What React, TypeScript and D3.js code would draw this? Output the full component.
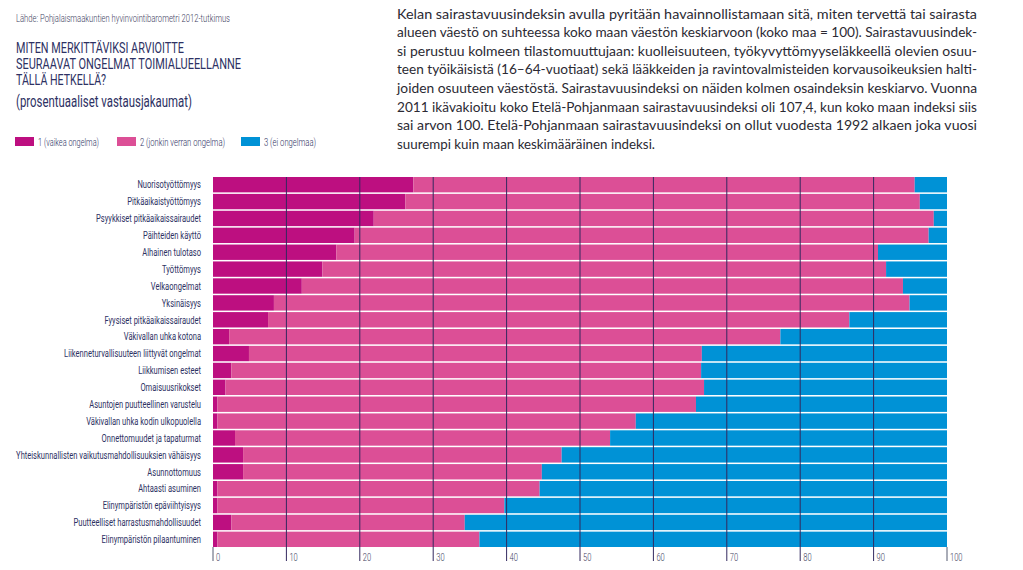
import React from "react";
import * as d3 from "d3";

const categories = [
  "Nuorisotyöttömyys",
  "Pitkäaikaistyöttömyys",
  "Psyykkiset pitkäaikaissairaudet",
  "Päihteiden käyttö",
  "Alhainen tulotaso",
  "Työttömyys",
  "Velkaongelmat",
  "Yksinäisyys",
  "Fyysiset pitkäaikaissairaudet",
  "Väkivallan uhka kotona",
  "Liikenneturvallisuuteen liittyvät ongelmat",
  "Liikkumisen esteet",
  "Omaisuusrikokset",
  "Asuntojen puutteellinen varustelu",
  "Väkivallan uhka kodin ulkopuolella",
  "Onnettomuudet ja tapaturmat",
  "Yhteiskunnallisten vaikutusmahdollisuuksien vähäisyys",
  "Asunnottomuus",
  "Ahtaasti asuminen",
  "Elinympäristön epäviihtyisyys",
  "Puutteelliset harrastusmahdollisuudet",
  "Elinympäristön pilaantuminen",
];

const severe = [27.3, 26.2, 21.9, 19.3, 16.8, 14.9, 12.1, 8.3, 7.5, 2.2, 4.9, 2.5, 1.7, 0.6, 0.6, 3.0, 4.1, 4.1, 0.6, 0.6, 2.5, 0.6];
const some = [68.3, 70.1, 76.3, 78.2, 73.8, 76.8, 81.9, 86.6, 79.2, 75.1, 61.7, 64.0, 65.2, 65.2, 57.0, 51.1, 43.4, 40.7, 43.9, 39.1, 31.8, 35.7];
const none = [4.4, 3.7, 1.8, 2.5, 9.4, 8.3, 6.0, 5.1, 13.3, 22.7, 33.4, 33.5, 33.1, 34.2, 42.4, 45.9, 52.5, 55.2, 55.5, 60.3, 65.7, 63.7];

const seriesKeys = ["severe", "some", "none"];
const seriesNames = ["1 (vaikea ongelma)", "2 (jonkin verran ongelma)", "3 (ei ongelmaa)"];
const seriesColors = ["#bd0f80", "#dc4f96", "#0092d6"];
const xTicks = [0, 10, 20, 30, 40, 50, 60, 70, 80, 90, 100];

const sourceText = "Lähde: Pohjalaismaakuntien hyvinvointibarometri 2012-tutkimus";
const titleLines = ["MITEN MERKITTÄVIKSI ARVIOITTE", "SEURAAVAT ONGELMAT TOIMIALUEELLANNE", "TÄLLÄ HETKELLÄ?"];
const subtitle = "(prosentuaaliset vastausjakaumat)";
const paragraph = [
  "Kelan sairastavuusindeksin avulla pyritään havainnollistamaan sitä, miten tervettä tai sairasta",
  "alueen väestö on suhteessa koko maan väestön keskiarvoon (koko maa = 100). Sairastavuusindek-",
  "si perustuu kolmeen tilastomuuttujaan: kuolleisuuteen, työkyvyttömyyseläkkeellä olevien osuu-",
  "teen työikäisistä (16–64-vuotiaat) sekä lääkkeiden ja ravintovalmisteiden korvausoikeuksien halti-",
  "joiden osuuteen väestöstä. Sairastavuusindeksi on näiden kolmen osaindeksin keskiarvo. Vuonna",
  "2011 ikävakioitu koko Etelä-Pohjanmaan sairastavuusindeksi oli 107,4, kun koko maan indeksi siis",
  "sai arvon 100. Etelä-Pohjanmaan sairastavuusindeksi on ollut vuodesta 1992 alkaen joka vuosi",
  "suurempi kuin maan keskimääräinen indeksi.",
];

const W = 1023;
const H = 570;
const navy = "#2d3163";
const condFont = "Roboto, 'Noto Sans', sans-serif";

export default function App() {
  const table = categories.map((c, i) => ({ cat: c, severe: severe[i], some: some[i], none: none[i] }));
  const stacked = d3.stack<any>().keys(seriesKeys)(table);

  const x = d3.scaleLinear().domain([0, 100]).range([213, 947]);
  const y = d3.scaleBand<string>().domain(categories).range([177, 547]).paddingInner(0.09).paddingOuter(0);
  const barBottom = 547;
  const tickBottom = 561;

  const labelScale = 0.7;
  const legendX = [15, 117, 241];
  const legendTextW = [61, 85, 52];

  return (
    <svg width={W} height={H} style={{ position: "absolute", left: 0, top: 0, background: "#fff" }}>
      {/* source */}
      <text x={16} y={22} fontFamily={condFont} fontWeight={300} fontSize={10} fill="#3d4060" textLength={214} lengthAdjust="spacingAndGlyphs">
        {sourceText}
      </text>
      {/* title */}
      {titleLines.map((t, i) => (
        <text key={t} x={16} y={52.5 + i * 16.4} fontFamily={condFont} fontSize={14.6} fill={navy}
          textLength={[168, 225, 90][i]} lengthAdjust="spacingAndGlyphs">
          {t}
        </text>
      ))}
      <text x={16} y={107} fontFamily={condFont} fontSize={16.5} fill={navy} textLength={176} lengthAdjust="spacingAndGlyphs">
        {subtitle}
      </text>

      {/* legend */}
      {seriesNames.map((n, i) => (
        <g key={n}>
          <rect x={legendX[i]} y={137} width={19} height={9} fill={seriesColors[i]} />
          <text x={legendX[i] + 23} y={145.5} fontFamily={condFont} fontWeight={300} fontSize={10.5} fill={navy}
            textLength={legendTextW[i]} lengthAdjust="spacingAndGlyphs">
            {n}
          </text>
        </g>
      ))}

      {/* paragraph */}
      {paragraph.map((line, i) => (
        <text key={i} x={397} y={18.5 + i * 18.6} fontFamily="Lato, 'Open Sans', sans-serif" fontSize={13.4} fill="#2b2a33"
          textLength={i < paragraph.length - 1 ? 580 : 258} lengthAdjust="spacingAndGlyphs">
          {line}
        </text>
      ))}

      {/* bars */}
      {stacked.map((s, si) => (
        <g key={s.key} fill={seriesColors[si]}>
          {s.map((d: any) => (
            <rect key={d.data.cat} x={x(d[0])} y={y(d.data.cat)} width={x(d[1]) - x(d[0])} height={y.bandwidth()} />
          ))}
        </g>
      ))}

      {/* grid lines */}
      {xTicks.map((t) => (
        <line key={t} x1={x(t)} x2={x(t)} y1={t === 0 || t === 100 ? barBottom : 177} y2={tickBottom}
          stroke={t === 0 || t === 100 ? "#555a70" : "#33295f"} strokeWidth={1} />
      ))}
      {xTicks.map((t) => (
        <text key={"l" + t} x={x(t) + 3} y={561} fontFamily={condFont} fontWeight={300} fontSize={10.5} fill="#3d4060"
          transform={`translate(${(x(t) + 3) * (1 - 0.72)},0) scale(0.72,1)`}>
          {t}
        </text>
      ))}

      {/* category labels */}
      {categories.map((c) => {
        const cy = (y(c) as number) + y.bandwidth() / 2 + 3.8;
        return (
          <text key={c} transform={`translate(201,${cy}) scale(${labelScale},1)`} textAnchor="end"
            fontFamily={condFont} fontSize={10.8} fill={navy}>
            {c}
          </text>
        );
      })}
    </svg>
  );
}
